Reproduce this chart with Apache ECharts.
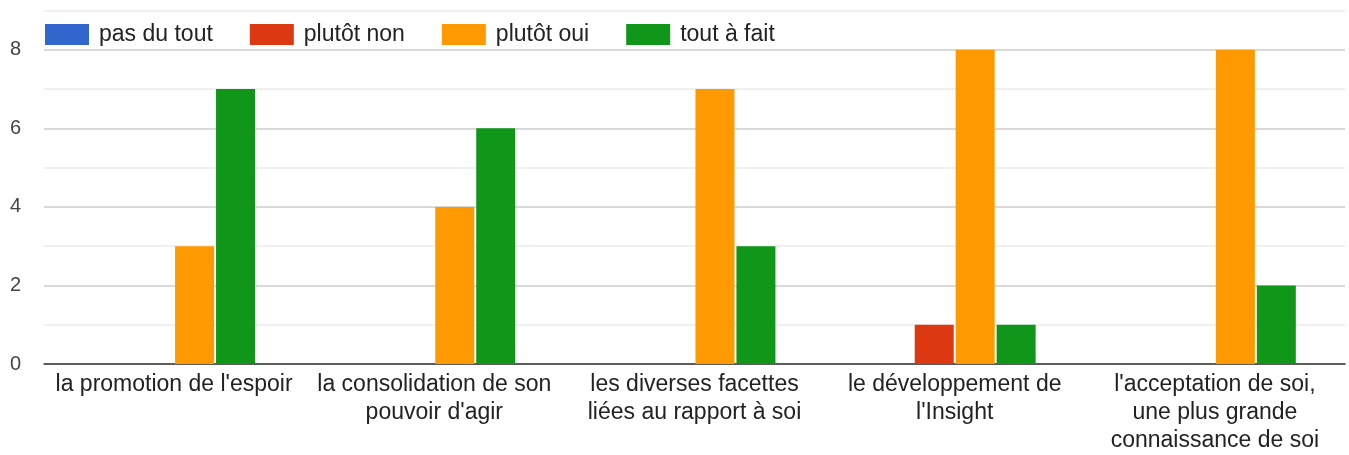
<!DOCTYPE html>
<html><head><meta charset="utf-8">
<script src="https://cdn.jsdelivr.net/npm/echarts@6/dist/echarts.min.js"></script>
<style>html,body{margin:0;padding:0;background:#fff}#c{width:1349px;height:455px}</style>
</head><body><div id="c"></div>
<script>
const categories = [
  "la promotion de l'espoir",
  "la consolidation de son\npouvoir d'agir",
  "les diverses facettes\nliées au rapport à soi",
  "le développement de\nl'Insight",
  "l'acceptation de soi,\nune plus grande\nconnaissance de soi"
];
const seriesNames = ["pas du tout", "plutôt non", "plutôt oui", "tout à fait"];
const pasDuTout = [0, 0, 0, 0, 0];
const plutotNon = [0, 0, 0, 1, 0];
const plutotOui = [3, 4, 7, 8, 8];
const toutAFait = [7, 6, 3, 1, 2];
const colors = ["#3366cc", "#dc3912", "#ff9900", "#109618"];
const yTicks = [0, 2, 4, 6, 8];

const values = [pasDuTout, plutotNon, plutotOui, toutAFait];
const font = "'Liberation Sans', Arial, sans-serif";
const chart = echarts.init(document.getElementById('c'), null, {renderer: 'canvas'});
chart.setOption({
  animation: false,
  textStyle: {fontFamily: font},
  legend: {
    left: 45, top: 23, padding: 0,
    itemWidth: 44, itemHeight: 21, itemGap: 37,
    icon: 'rect',
    textStyle: {fontSize: 23, color: '#222', fontFamily: font, padding: [0, 0, 0, 5]},
    data: seriesNames
  },
  grid: {left: 44, right: 4, top: 10.5, bottom: 89, containLabel: false},
  xAxis: {
    type: 'category',
    data: categories,
    axisTick: {show: false},
    axisLine: {lineStyle: {color: '#333', width: 1.5}},
    axisLabel: {fontSize: 23, color: '#222', lineHeight: 28, margin: 7, interval: 0, fontFamily: font}
  },
  yAxis: {
    type: 'value', min: 0, max: 9, interval: 1,
    axisLine: {show: false}, axisTick: {show: false},
    axisLabel: {
      fontSize: 20, color: '#444', margin: 23, fontFamily: font,
      formatter: v => yTicks.includes(v) ? String(v) : ''
    },
    splitLine: {lineStyle: {color: ['#cccccc', '#ebebeb'], width: 1.5}}
  },
  series: values.map((d, i) => ({
    name: seriesNames[i], type: 'bar', data: d,
    barWidth: 39, barGap: '5%',
    itemStyle: {color: colors[i]}
  }))
});
</script></body></html>
